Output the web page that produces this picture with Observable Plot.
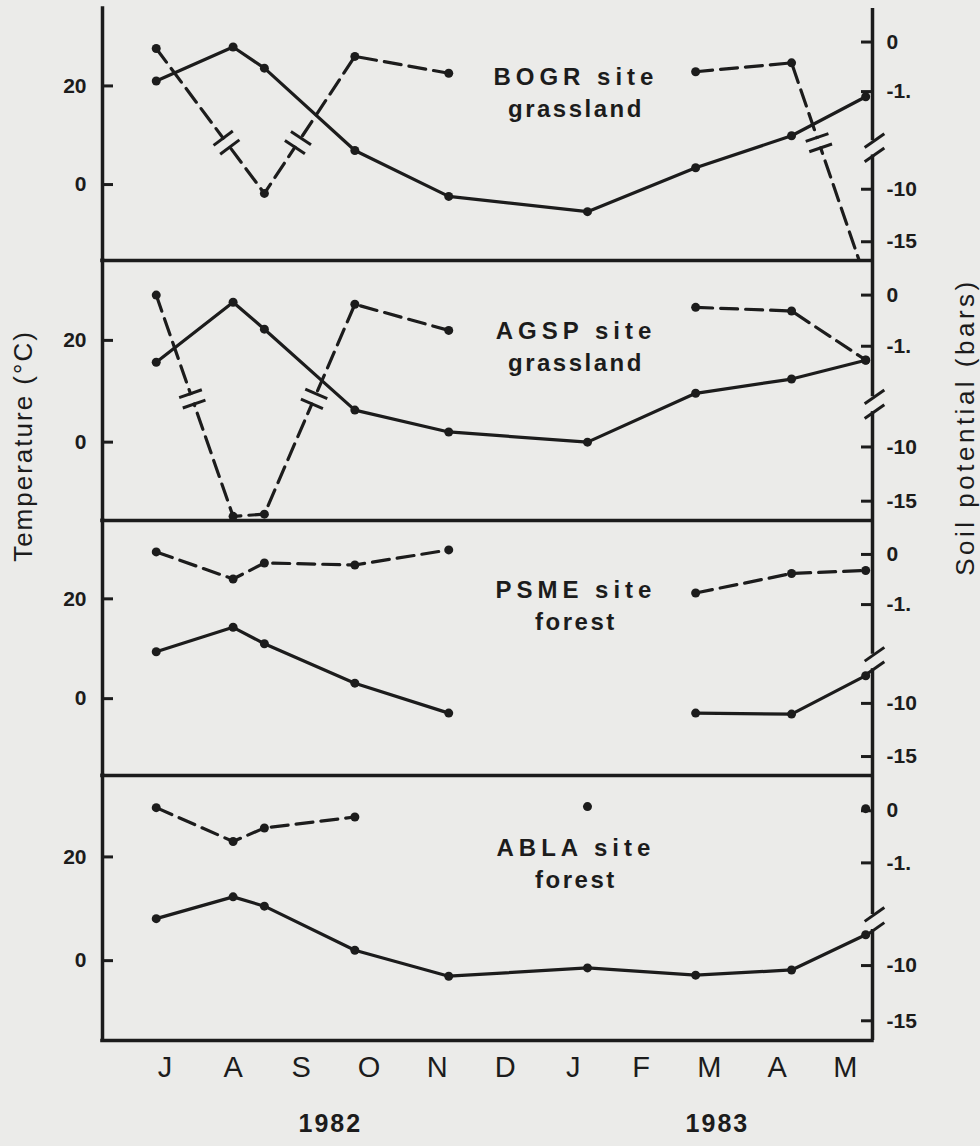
<!DOCTYPE html>
<html><head><meta charset="utf-8">
<script src="https://cdn.jsdelivr.net/npm/d3@7"></script>
<script src="https://cdn.jsdelivr.net/npm/@observablehq/plot@0.6"></script>
<style>
html,body{margin:0;padding:0;background:#ebebe9;}
#wrap{position:relative;width:980px;height:1146px;overflow:hidden;font-family:"Liberation Sans",Arial,sans-serif;color:#1c1c1c;}
#wrap svg{display:block;}
.vtitle{position:absolute;white-space:nowrap;transform:translate(-50%,-50%) rotate(-90deg);}
</style></head><body><div id="wrap"></div>
<script>
// ---- data ----
// sampling dates, in months after July 1982 (0 = "J" label, 10 = "M" 1983)
const dates = [-0.13, 1.0, 1.46, 2.79, 4.17, 6.21, 7.8, 9.21, 10.3];
const siteNames = ["BOGR site", "AGSP site", "PSME site", "ABLA site"];
const habitats = ["grassland", "grassland", "forest", "forest"];
// temperature (°C), solid lines
const tempBOGR = [21.0, 27.9, 23.6, 6.9, -2.4, -5.5, 3.4, 9.9, 17.8];
const tempAGSP = [15.7, 27.5, 22.2, 6.3, 2.0, 0.0, 9.6, 12.4, 16.1];
const tempPSME = [9.4, 14.3, 11.0, 3.1, -2.9, null, -2.9, -3.1, 4.6];
const tempABLA = [8.1, 12.3, 10.5, 2.0, -3.0, -1.4, -2.8, -1.8, 5.0];
// soil water potential (bars), dashed lines
const soilBOGR = [-0.13, null, -10.4, -0.29, -0.63, null, -0.6, -0.42, -18.6];
const soilAGSP = [0.0, -16.4, -16.2, -0.18, -0.69, null, -0.24, -0.31, -1.27];
const soilPSME = [0.05, -0.49, -0.17, -0.21, 0.09, null, -0.77, -0.38, -0.32];
const soilABLA = [0.06, -0.59, -0.33, -0.12, null, 0.08, null, null, 0.04];
const monthLabels = ["J", "A", "S", "O", "N", "D", "J", "F", "M", "A", "M"];
const years = ["1982", "1983"];
const yearMonth = [2.43, 8.12];
const tempTicks = [0, 20];
const soilTicks = [0, -1, -10, -15];
const soilTickLabels = ["0", "-1.", "-10", "-15"];

const temps = [tempBOGR, tempAGSP, tempPSME, tempABLA];
const soils = [soilBOGR, soilAGSP, soilPSME, soilABLA];

// ---- layout / scale helpers ----
const INK = "#1c1c1c", BG = "#ebebe9";
const W = 980, ML = 102, MR = 108;
const xDomain = [-0.92, 10.40], yDomain = [-15.4, 35.7];
const heights = [252, 260, 255, 265];
const kx = (W - ML - MR) / (xDomain[1] - xDomain[0]);
const AXIS_BREAK = [8.9, 6.0];   // right axis break (temperature-equivalent units)
const LINE_BREAK = 8.5;

// broken soil-potential axis: 0..-2 bars stretched, below -5 bars compressed
function soilToY(s) {
  return s >= -2 ? 28.9 + 10.05 * s : -0.95 + 2.13 * (s + 10);
}
// connect readings that are less than 3 months apart
function runs(values) {
  const rows = []; let run = 0, last = null;
  values.forEach((v, i) => {
    if (v == null) return;
    if (last != null && dates[i] - dates[last] > 3) run++;
    rows.push({x: dates[i], v, run});
    last = i;
  });
  return rows;
}
function breakMarks(rows, ky) {
  const bars = [], gaps = [];
  const GAP = 5.5, HALF = 12;
  for (let i = 1; i < rows.length; i++) {
    const a = rows[i - 1], b = rows[i];
    if (a.run !== b.run) continue;
    if ((a.y - LINE_BREAK) * (b.y - LINE_BREAK) >= 0) continue;
    const t = (a.y - LINE_BREAK) / (a.y - b.y);
    const xc = a.x + t * (b.x - a.x), yc = LINE_BREAK;
    let ux = (b.x - a.x) * kx, uy = (b.y - a.y) * ky;
    const L = Math.hypot(ux, uy); ux /= L; uy /= L;
    const nx = -uy, ny = ux;
    for (const s of [-1, 1]) {
      const cx = xc + s * GAP * ux / kx, cy = yc + s * GAP * uy / ky;
      bars.push({x1: cx - nx * HALF / kx, y1: cy - ny * HALF / ky, x2: cx + nx * HALF / kx, y2: cy + ny * HALF / ky});
    }
    gaps.push({x1: xc - (GAP - 1.5) * ux / kx, y1: yc - (GAP - 1.5) * uy / ky, x2: xc + (GAP - 1.5) * ux / kx, y2: yc + (GAP - 1.5) * uy / ky});
  }
  return {bars, gaps};
}

function spaceText(svg, strings, ls) {
  d3.select(svg).selectAll("text").filter(function() { return strings.includes(this.textContent); })
    .style("letter-spacing", ls + "px");
}

function panel(i) {
  const h = heights[i];
  const mt = i === 0 ? 8 : 0, mb = i === 3 ? 106 : 0;
  const ky = h / (yDomain[1] - yDomain[0]);
  const tRows = runs(temps[i]).map(d => ({...d, y: d.v}));
  const sRows = runs(soils[i]).map(d => ({...d, y: soilToY(d.v)}));
  const {bars, gaps} = breakMarks(sRows, ky);
  const ang = 35 * Math.PI / 180, sl = 12;
  const slashes = AXIS_BREAK.map(t => ({
    x1: xDomain[1] + (2 - sl * Math.cos(ang)) / kx, y1: t - sl * Math.sin(ang) / ky,
    x2: xDomain[1] + (2 + sl * Math.cos(ang)) / kx, y2: t + sl * Math.sin(ang) / ky
  }));
  const plotW = W - ML - MR;
  const marks = [
    Plot.ruleY([yDomain[0]], {stroke: INK, strokeWidth: 3.5, strokeLinecap: "square"}),
    Plot.ruleX([xDomain[0]], {stroke: INK, strokeWidth: 3.5, strokeLinecap: "square"}),
    Plot.ruleX([xDomain[1]], {y1: AXIS_BREAK[0], y2: yDomain[1], stroke: INK, strokeWidth: 3.5}),
    Plot.ruleX([xDomain[1]], {y1: yDomain[0], y2: AXIS_BREAK[1], stroke: INK, strokeWidth: 3.5}),
    Plot.link(slashes, {x1: "x1", y1: "y1", x2: "x2", y2: "y2", stroke: INK, strokeWidth: 3}),
    Plot.tickY(tempTicks, {y: d => d, insetRight: plotW - 11, stroke: INK, strokeWidth: 3}),
    Plot.tickY(soilTicks, {y: d => soilToY(d), insetLeft: plotW - 11, stroke: INK, strokeWidth: 3}),
    Plot.text(tempTicks, {y: d => d, text: d => String(d), frameAnchor: "left", textAnchor: "end", dx: -16,
      fontSize: 21, fontWeight: "bold", fill: INK}),
    Plot.text(soilTicks, {y: d => soilToY(d), text: (d, j) => soilTickLabels[j], frameAnchor: "right", textAnchor: "start", dx: 14,
      fontSize: 21, fontWeight: "bold", fill: INK}),
    Plot.line(tRows, {x: "x", y: "y", z: "run", stroke: INK, strokeWidth: 3.2, clip: true}),
    Plot.line(sRows, {x: "x", y: "y", z: "run", stroke: INK, strokeWidth: 3.2, strokeDasharray: "17,8", clip: true}),
    Plot.link(gaps, {x1: "x1", y1: "y1", x2: "x2", y2: "y2", stroke: BG, strokeWidth: 8}),
    Plot.link(bars, {x1: "x1", y1: "y1", x2: "x2", y2: "y2", stroke: INK, strokeWidth: 3}),
    Plot.dot(tRows, {x: "x", y: "y", r: 4.5, fill: INK, clip: true}),
    Plot.dot(sRows, {x: "x", y: "y", r: 4.5, fill: INK, clip: true}),
    Plot.text([siteNames[i]], {x: 6.04, y: 21.7, text: d => d, fontSize: 24, fontWeight: "bold", fill: INK}),
    Plot.text([habitats[i]], {x: 6.04, y: 21.7, dy: 32, text: d => d, fontSize: 24, fontWeight: "bold", fill: INK})
  ];
  if (i === 3) {
    marks.push(
      Plot.text(monthLabels, {x: (d, j) => j, text: d => d, frameAnchor: "bottom", dy: 36, fontSize: 29, fill: INK}),
      Plot.text(years, {x: (d, j) => yearMonth[j], text: d => d, frameAnchor: "bottom", dy: 91, fontSize: 25, fontWeight: "bold", fill: INK})
    );
  }
  const svg = Plot.plot({
    width: W, height: h + mt + mb,
    marginLeft: ML, marginRight: MR, marginTop: mt, marginBottom: mb,
    x: {domain: xDomain, axis: null},
    y: {domain: yDomain, axis: null},
    style: {background: "transparent", color: INK, fontFamily: "'Liberation Sans', Arial, sans-serif", overflow: "visible"},
    marks
  });
  spaceText(svg, siteNames, 5);
  spaceText(svg, habitats, 2.5);
  spaceText(svg, years, 2);
  return svg;
}

const wrap = document.getElementById("wrap");
for (let i = 0; i < 4; i++) wrap.appendChild(panel(i));

function vtitle(text, cx, cy, size, ls) {
  const d = document.createElement("div");
  d.className = "vtitle";
  d.textContent = text;
  d.style.left = cx + "px"; d.style.top = cy + "px";
  d.style.fontSize = size + "px"; d.style.letterSpacing = ls + "px";
  wrap.appendChild(d);
}
vtitle("Temperature (°C)", 23, 446, 26, 2);
vtitle("Soil potential (bars)", 965, 427, 26, 3.5);
</script></body></html>
